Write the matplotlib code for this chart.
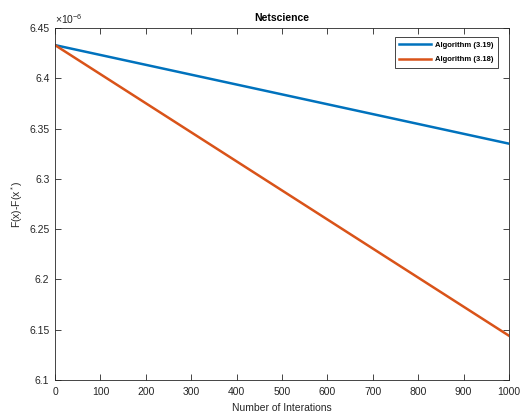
import matplotlib
matplotlib.use("Agg")
from matplotlib import pyplot as plt
from matplotlib.ticker import FuncFormatter

plt.rcParams['font.family'] = ['Liberation Sans', 'DejaVu Sans']
plt.rcParams['mathtext.fontset'] = 'custom'
plt.rcParams['mathtext.rm'] = 'Liberation Sans'

# values (units of 1e-6)
iters = [0, 200, 400, 600, 800, 1000]
alg_319 = [6.433, 6.4134, 6.3938, 6.3742, 6.3546, 6.335]
alg_318 = [6.433, 6.3752, 6.3174, 6.2596, 6.2018, 6.144]
y_ticks = [6.1, 6.15, 6.2, 6.25, 6.3, 6.35, 6.4, 6.45]
x_ticks = [0, 100, 200, 300, 400, 500, 600, 700, 800, 900, 1000]

fig = plt.figure(figsize=(5.32, 4.15), dpi=100)
ax = fig.add_axes([0.1034, 0.0843, 0.8534, 0.8482])

ax.plot(iters, alg_319, color='#0072BD', lw=1.8, label='Algorithm (3.19)')
ax.plot(iters, alg_318, color='#D95319', lw=1.8, label='Algorithm (3.18)')

ax.set_xlim(0, 1000)
ax.set_ylim(6.1, 6.45)
ax.set_xticks(x_ticks)
ax.set_yticks(y_ticks)
ax.yaxis.set_major_formatter(FuncFormatter(lambda v, p: '%g' % round(v, 3)))

gray = '#262626'
for s in ax.spines.values():
    s.set_color(gray)
    s.set_linewidth(0.6)
ax.tick_params(direction='in', top=True, right=True, length=4, width=0.6,
               colors=gray, labelsize=7.5)
ax.tick_params(axis='x', pad=5)
ax.tick_params(axis='y', pad=4)

ax.set_title('Netscience', fontsize=7.5, fontweight='bold', pad=5)
ax.set_xlabel('Number of Interations', fontsize=7.5, color=gray, labelpad=4)
ax.set_ylabel(r'F(x)-F(x$^*$)', fontsize=7.5, color=gray, labelpad=3)
ax.text(0.0, 1.005, r'$\times10^{-6}$', transform=ax.transAxes,
        fontsize=7.5, color=gray, ha='left', va='bottom')

leg = ax.legend(loc='upper right', bbox_to_anchor=(0.985, 0.985),
                prop={'size': 5.5, 'weight': 'bold'}, handlelength=4.2,
                fancybox=False, framealpha=1, borderpad=0.6, labelspacing=0.9,
                handletextpad=0.5)
leg.get_frame().set_edgecolor(gray)
leg.get_frame().set_linewidth(0.6)

fig.savefig('out.png', dpi=100)
